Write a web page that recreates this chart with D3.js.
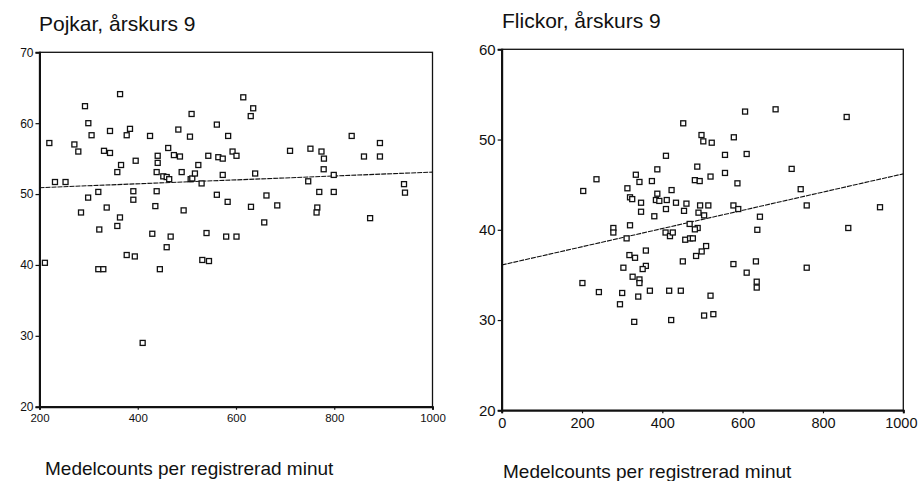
<!DOCTYPE html>
<html>
<head>
<meta charset="utf-8">
<script src="https://cdn.jsdelivr.net/npm/d3@7"></script>
<style>
    body { margin: 0; background: #fff; }
    text { font-family: 'Liberation Sans', Arial, sans-serif; fill: #111; }
</style>
</head>
<body>
<div id="wrapper"></div>
<script>
// Pojkar, årskurs 9: [medelcounts, value]
const boysPoints = [
    [220, 57.2], [231.5, 51.7], [253, 51.7], [292.6, 62.4], [299.4, 60.0], [306, 58.3],
    [271, 57.0], [279, 56.0], [299, 49.5], [284.5, 47.4], [319.7, 50.3], [336.8, 48.1],
    [321.7, 45.0], [343.5, 58.9], [331.3, 56.1], [343.5, 55.8], [364, 64.1], [358.4, 53.1],
    [366, 54.1], [384.2, 59.2], [377.5, 58.3], [395.8, 54.7], [391, 50.4], [391, 49.2],
    [363.8, 46.7], [358.4, 45.5], [425, 58.2], [440.6, 55.4], [440.6, 54.4], [438.5, 53.1],
    [438.5, 50.4], [435.8, 48.3], [462, 56.5], [473.6, 55.5], [485.9, 55.3], [452, 52.5],
    [458.9, 52.4], [464, 52.1], [482.6, 59.1], [489.4, 53.1], [506.3, 58.1], [509.6, 61.3],
    [493.4, 47.7], [507.7, 52.1], [511, 52.2], [516.4, 52.9], [523.3, 54.1], [530, 51.5],
    [543.6, 55.4], [564, 55.2], [573, 55.0], [561, 59.8], [584, 58.2], [573, 52.7],
    [561, 49.9], [583, 48.9], [429.6, 44.4], [467, 44.0], [540, 44.5], [580, 44.0],
    [601, 44.0], [614.8, 63.65], [635, 62.1], [630, 61.0], [593, 56.0], [601, 55.4],
    [639, 52.9], [710, 56.1], [751.5, 56.4], [774, 56.0], [779, 55.0], [778.5, 53.5],
    [799, 52.7], [747, 51.8], [835.5, 58.2], [893, 57.2], [860.5, 55.3], [893, 55.3],
    [942, 51.4], [944, 50.2], [662, 49.8], [630.5, 48.2], [684, 48.4], [769.5, 50.3],
    [799, 50.3], [765.5, 48.1], [764, 47.4], [873, 46.6], [657.5, 46.0], [211, 40.3],
    [319.7, 39.4], [329.9, 39.4], [377.5, 41.4], [394, 41.2], [458.9, 42.5], [445, 39.4],
    [410, 29.0], [531.4, 40.7], [545, 40.55]
];

// Flickor, årskurs 9: [medelcounts, value]
const girlsPoints = [
    [452, 51.8], [409, 48.2], [387.5, 46.7], [334, 46.1], [343, 45.3], [374, 45.4],
    [236, 45.6], [203, 44.3], [313, 44.6], [423, 44.4], [387.5, 44.0], [606, 53.1],
    [682, 53.35], [859, 52.5], [497.5, 50.5], [502, 49.8], [523, 49.65], [578, 50.25],
    [556, 48.3], [610, 48.4], [487, 47.0], [481, 45.5], [493, 45.4], [520, 45.9],
    [556, 46.3], [587, 45.15], [722, 46.75], [744.5, 44.5], [201, 34.1], [242, 33.1],
    [300, 33.0], [294.5, 31.75], [340, 32.6], [369, 33.25], [417, 33.25], [446, 33.25],
    [330, 29.8], [422, 30.0], [278, 40.2], [278, 39.7], [319.5, 40.5], [311, 39.05],
    [318, 37.2], [332, 36.9], [303, 35.8], [359, 37.7], [359, 36.0], [351, 35.65],
    [326, 34.8], [343, 34.5], [343, 34.1], [451, 36.5], [408, 39.7], [419, 39.3],
    [426, 39.7], [319.5, 43.6], [325, 43.4], [347, 43.0], [347, 42.0], [380, 41.5],
    [384, 43.3], [392.5, 43.2], [411, 43.3], [409, 42.3], [434, 43.0], [460, 42.9],
    [454, 42.1], [468, 40.65], [494, 42.7], [514.5, 42.7], [490, 41.9], [504, 41.6],
    [577, 42.7], [589, 42.3], [643, 41.45], [636.5, 40.0], [759.5, 42.7], [942, 42.5],
    [863, 40.2], [488, 40.2], [481, 40.05], [457, 38.9], [469, 39.05], [476, 39.05],
    [509, 38.2], [498, 37.6], [484, 37.1], [577, 36.2], [633, 36.5], [610, 35.25],
    [635, 34.25], [635, 33.6], [759.5, 35.8], [520, 32.7], [504, 30.5], [527, 30.65]
];

// regression lines
const boysTrend = [[200, 50.9], [1000, 53.1]];
const girlsTrend = [[0, 36.1], [1000, 46.2]];

const boysXTicks = [200, 400, 600, 800, 1000];
const boysYTicks = [20, 30, 40, 50, 60, 70];
const girlsXTicks = [0, 200, 400, 600, 800, 1000];
const girlsYTicks = [20, 30, 40, 50, 60];

const titles = ['Pojkar, årskurs 9', 'Flickor, årskurs 9'];
const xTitle = 'Medelcounts per registrerad minut';

const svg = d3.select('#wrapper')
    .append('svg')
    .attr('width', 918)
    .attr('height', 481);

const panels = [
    {
        points: boysPoints, trend: boysTrend, title: titles[0],
        xDomain: [200, 1000], yDomain: [20, 70],
        xRange: [39.5, 432.5], yRange: [406.7, 52.3],
        xTicks: boysXTicks, yTicks: boysYTicks,
        xTickFont: 11.5, yTickFont: 12, titleX: 39, titleY: 31, xTitleX: 45, xTitleY: 475
    },
    {
        points: girlsPoints, trend: girlsTrend, title: titles[1],
        xDomain: [0, 1000], yDomain: [20, 60],
        xRange: [501.7, 903.3], yRange: [410.3, 49.3],
        xTicks: girlsXTicks, yTicks: girlsYTicks,
        xTickFont: 14.5, yTickFont: 15, titleX: 502, titleY: 28, xTitleX: 503, xTitleY: 478
    }
];

panels.forEach(p => drawPanel(p));

function drawPanel(p) {
    const xScale = d3.scaleLinear().domain(p.xDomain).range(p.xRange);
    const yScale = d3.scaleLinear().domain(p.yDomain).range(p.yRange);

    const [x0, x1] = p.xRange;
    const [yb, yt] = p.yRange;

    const g = svg.append('g');

    // frame
    g.append('rect')
        .attr('x', x0)
        .attr('y', yt)
        .attr('width', x1 - x0)
        .attr('height', yb - yt)
        .attr('fill', 'none')
        .attr('stroke', '#111')
        .attr('stroke-width', 1.3);

    // axes
    const yAxis = g.append('g')
        .attr('transform', `translate(${x0},0)`)
        .call(d3.axisLeft(yScale).tickValues(p.yTicks).tickFormat(d3.format('d')).tickSize(4).tickPadding(2));
    yAxis.select('.domain').attr('stroke-width', 2).attr('stroke', '#111');

    const xAxis = g.append('g')
        .attr('transform', `translate(0,${yb})`)
        .call(d3.axisBottom(xScale).tickValues(p.xTicks).tickFormat(d3.format('d')).tickSize(3).tickPadding(4));
    xAxis.select('.domain').attr('stroke-width', 2).attr('stroke', '#111');

    [xAxis, yAxis].forEach(a => {
        a.selectAll('.tick line').attr('stroke', '#111').attr('stroke-width', 1.2);
        a.selectAll('.tick text')
            .attr('font-family', "'Liberation Sans', Arial, sans-serif")
            .attr('fill', '#111');
    });
    xAxis.selectAll('.tick text').attr('font-size', p.xTickFont);
    yAxis.selectAll('.tick text').attr('font-size', p.yTickFont);

    // keep the last x label inside the page
    xAxis.selectAll('.tick text')
        .filter(d => d === p.xDomain[1])
        .attr('text-anchor', 'middle')
        .attr('dx', function() {
            const box = this.getBBox();
            const right = xScale(p.xDomain[1]) + box.width / 2;
            return right > 917 ? 917 - right : 0;
        });

    // regression line
    const line = d3.line()
        .x(d => xScale(d[0]))
        .y(d => yScale(d[1]));

    g.append('path')
        .attr('d', line(p.trend))
        .attr('fill', 'none')
        .attr('stroke', '#111')
        .attr('stroke-width', 1.1)
        .attr('stroke-dasharray', '5 1');

    // points
    g.selectAll('.pt')
        .data(p.points)
        .join('rect')
        .attr('class', 'pt')
        .attr('x', d => xScale(d[0]) - 2.5)
        .attr('y', d => yScale(d[1]) - 2.5)
        .attr('width', 5)
        .attr('height', 5)
        .attr('fill', 'white')
        .attr('stroke', '#111')
        .attr('stroke-width', 1.3);

    // titles
    svg.append('text')
        .attr('x', p.titleX)
        .attr('y', p.titleY)
        .attr('font-size', 21)
        .text(p.title);

    svg.append('text')
        .attr('x', p.xTitleX)
        .attr('y', p.xTitleY)
        .attr('font-size', 19)
        .text(xTitle);
}
</script>
</body>
</html>
